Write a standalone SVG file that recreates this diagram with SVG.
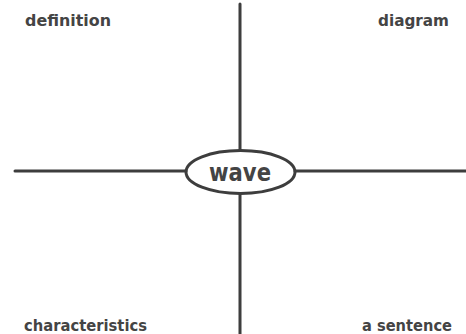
<svg xmlns="http://www.w3.org/2000/svg" width="466" height="334" viewBox="0 0 466 334">
<style>
.ln{stroke:#3d3d3d;stroke-width:3;fill:none;stroke-linecap:round}
.lbl{font-family:"DejaVu Sans",sans-serif;font-weight:bold;font-size:15px;fill:#444}
.ctr{font-family:"DejaVu Sans",sans-serif;font-weight:bold;font-size:24px;fill:#444;text-anchor:middle}
</style>
<rect width="466" height="334" fill="#fff"/>
<g id="connectors">
<line class="ln" x1="240" y1="4" x2="240" y2="150"/>
<line class="ln" x1="240" y1="194" x2="240" y2="336"/>
<line class="ln" x1="15" y1="171" x2="186" y2="171"/>
<line class="ln" x1="295" y1="171" x2="468" y2="171"/>
</g>
<g id="center">
<ellipse class="ln" cx="240.5" cy="172" rx="54.5" ry="21.5"/>
<text class="ctr" x="240" y="181" textLength="62" lengthAdjust="spacingAndGlyphs">wave</text>
</g>
<g id="definition"><text class="lbl" x="25" y="26" textLength="86" lengthAdjust="spacingAndGlyphs">definition</text></g>
<g id="diagram"><text class="lbl" x="378" y="26" textLength="71" lengthAdjust="spacingAndGlyphs">diagram</text></g>
<g id="characteristics"><text class="lbl" x="24" y="331" textLength="123" lengthAdjust="spacingAndGlyphs">characteristics</text></g>
<g id="sentence"><text class="lbl" x="362" y="331" textLength="90" lengthAdjust="spacingAndGlyphs">a sentence</text></g>
</svg>
